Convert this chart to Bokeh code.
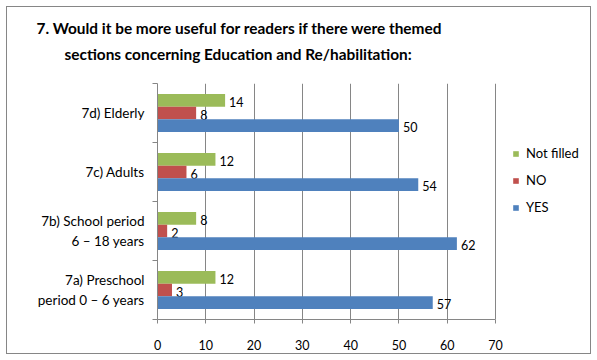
from bokeh.plotting import figure
from bokeh.models import (ColumnDataSource, FixedTicker, Legend, LegendItem, Title, Range1d)
from bokeh.transform import dodge
from bokeh.embed import file_html
from bokeh.resources import INLINE
from bokeh.core.properties import value

categories = ["7a) Preschool\nperiod 0 \u2013 6 years",
              "7b) School period\n6 \u2013 18 years",
              "7c) Adults",
              "7d) Elderly"]
yes_vals = [57, 62, 54, 50]
no_vals = [3, 2, 6, 8]
notfilled_vals = [12, 8, 12, 14]
series_names = ["Not filled", "NO", "YES"]
series_colors = ["#9BBB59", "#C0504D", "#4F81BD"]
x_ticks = [0, 10, 20, 30, 40, 50, 60, 70]
title_lines = ["7. Would it be more useful for readers if there were themed",
               "sections concerning Education and Re/habilitation:"]

FONT = "Lato"
pos = [i + 0.5 for i in range(len(categories))]
src = ColumnDataSource(dict(y=pos, yes=yes_vals, no=no_vals, nf=notfilled_vals,
                            yes_t=[str(v) for v in yes_vals],
                            no_t=[str(v) for v in no_vals],
                            nf_t=[str(v) for v in notfilled_vals]))

# frame spans 157..590 px; axis drawn only over 0..70 (157..495 px)
p = figure(width=597, height=360, output_backend="svg", toolbar_location=None,
           x_range=Range1d(0, 89.67), y_range=Range1d(0, 4),
           min_border_left=157, min_border_right=7, min_border_top=83, min_border_bottom=41)
p.title.visible = False
p.background_fill_alpha = 0
p.border_fill_alpha = 0
p.outline_line_color = None
p.styles = {"background-color": "white",
            "box-shadow": "inset 0 0 0 6px white, inset 0 0 0 7px #868686"}

H = 0.216
cols = ["nf", "no", "yes"]
offs = [H, 0.0, -H]
renderers = []
for c, o, col in zip(cols, offs, series_colors):
    r = p.hbar(y=dodge("y", o), right=c, left=0, height=H, source=src,
               fill_color=col, line_color=None)
    renderers.append(r)
    p.text(x=c, y=dodge("y", o), text=c + "_t", source=src, x_offset=4, y_offset=1.5,
           text_baseline="middle", text_align="left", text_font=value(FONT),
           text_font_size="12.5px", text_color="#000000")

legend = Legend(items=[LegendItem(label=n, renderers=[r]) for n, r in zip(series_names, renderers)],
                location=(355, 102), padding=0, margin=0, spacing=7,
                glyph_width=7, glyph_height=7, label_height=20, label_standoff=7,
                label_text_font=FONT, label_text_font_size="13px", label_text_color="#000000",
                border_line_color=None, background_fill_alpha=0)
p.add_layout(legend, "center")

# axes
p.xaxis.ticker = FixedTicker(ticks=x_ticks)
p.xaxis.bounds = (0, 70)
p.xaxis.axis_line_color = "#868686"
p.xaxis.major_tick_line_color = "#868686"
p.xaxis.major_tick_out = 4
p.xaxis.major_tick_in = 0
p.xaxis.minor_tick_line_color = None
p.xaxis.major_label_standoff = 16
p.xaxis.major_label_text_font = FONT
p.xaxis.major_label_text_font_size = "12.5px"
p.xaxis.major_label_text_color = "#000000"

p.yaxis.ticker = FixedTicker(ticks=pos, minor_ticks=list(range(len(categories) + 1)))
p.yaxis.major_label_overrides = {v: c for v, c in zip(pos, categories)}
p.yaxis.axis_line_color = "#868686"
p.yaxis.major_tick_line_color = None
p.yaxis.minor_tick_line_color = "#868686"
p.yaxis.minor_tick_out = 5
p.yaxis.minor_tick_in = 0
p.yaxis.major_label_standoff = 7
p.yaxis.major_label_text_font = FONT
p.yaxis.major_label_text_font_size = "13.5px"
p.yaxis.major_label_text_color = "#000000"
p.yaxis.major_label_text_line_height = 1.2

p.xgrid.ticker = FixedTicker(ticks=x_ticks)
p.xgrid.grid_line_color = "#868686"
p.ygrid.grid_line_color = None

# title stack: first added sits closest to the frame
p.add_layout(Title(text=" ", text_font_size="1px", standoff=18), "above")
p.add_layout(Title(text=title_lines[1], align="left", offset=-93, standoff=0,
                   text_font=FONT, text_font_size="15.4px", text_font_style="bold",
                   text_color="#000000"), "above")
p.add_layout(Title(text=title_lines[0], align="left", offset=-121, standoff=12,
                   text_font=FONT, text_font_size="15.4px", text_font_style="bold",
                   text_color="#000000"), "above")

open("out.html", "w").write(file_html(p, INLINE))
